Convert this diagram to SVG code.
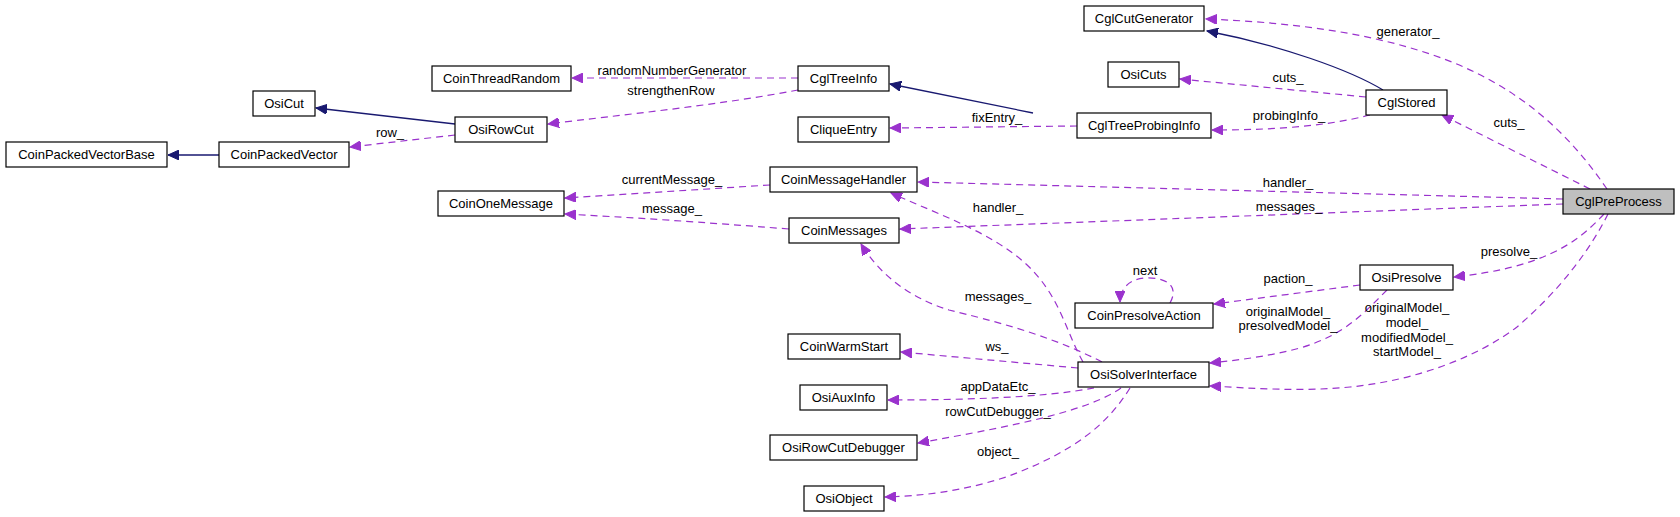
<svg xmlns="http://www.w3.org/2000/svg" width="1680" height="517" viewBox="0 0 1680 517">
<style>
.n rect{fill:#fff;stroke:#000;stroke-width:1.2}
.n text,.l{font-family:"Liberation Sans",Arial,sans-serif;font-size:13px;fill:#000;text-anchor:middle}
.d{fill:none;stroke:#9a32cd;stroke-width:1.2;stroke-dasharray:7,5;marker-end:url(#pa)}
.s{fill:none;stroke:#191970;stroke-width:1.3;marker-end:url(#na)}
</style>
<defs>
<marker id="pa" markerUnits="userSpaceOnUse" markerWidth="12" markerHeight="10" refX="11" refY="5" orient="auto"><path d="M0,0 L11,5 L0,10 z" fill="#9a32cd" stroke="#9a32cd"/></marker>
<marker id="na" markerUnits="userSpaceOnUse" markerWidth="12" markerHeight="10" refX="11" refY="5" orient="auto"><path d="M0,0 L11,5 L0,10 z" fill="#191970" stroke="#191970"/></marker>
</defs>
<rect width="1680" height="517" fill="#fff"/>
<g id="edges">
<path class="s" d="M1383,90 C1350,70 1280,45 1207,31"/>
<path class="s" d="M1033,113 L890,84"/>
<path class="s" d="M455,124 L316,108"/>
<path class="s" d="M219,155 L168,155"/>
<path class="d" d="M798,78 L572,78"/>
<path class="d" d="M798,90 C720,105 620,115 548,124"/>
<path class="d" d="M455,135 L350,147"/>
<path class="d" d="M1077,126 L890,128"/>
<path class="d" d="M1366,97 L1180,79"/>
<path class="d" d="M1370,115 C1320,128 1260,130 1212,130"/>
<path class="d" d="M1607,189 C1570,135 1520,85 1433,55 C1360,30 1280,22 1206,19"/>
<path class="d" d="M1590,189 L1442,115"/>
<path class="d" d="M1563,199 L918,182"/>
<path class="d" d="M1563,204 L900,229"/>
<path class="d" d="M770,185 L565,198"/>
<path class="d" d="M789,229 C700,222 640,218 565,214"/>
<path class="d" d="M1083,362 C1065,330 1060,295 1025,263 C990,232 940,215 891,193"/>
<path class="d" d="M1102,362 C1050,335 990,320 949,310 C910,298 880,275 861,244"/>
<path class="d" d="M1078,368 L901,352"/>
<path class="d" d="M1094,388 C1040,398 960,400 888,400"/>
<path class="d" d="M1121,388 C1090,410 1020,425 918,443"/>
<path class="d" d="M1130,388 C1110,420 1080,450 1006,477 C960,492 920,496 885,497"/>
<path class="d" d="M1170,303 C1180,285 1165,277 1145,278 C1128,279 1120,290 1120,302"/>
<path class="d" d="M1360,285 L1214,304"/>
<path class="d" d="M1387,290 C1365,312 1345,335 1300,348 C1270,356 1240,360 1210,363"/>
<path class="d" d="M1608,214 C1590,250 1560,290 1517,327 C1480,355 1420,380 1350,387 C1300,392 1250,388 1210,386"/>
<path class="d" d="M1604,214 C1580,240 1560,250 1543,257 C1510,270 1480,274 1454,277"/>
</g>
<g id="labels">
<text class="l" x="672" y="75">randomNumberGenerator</text>
<text class="l" x="671" y="95">strengthenRow</text>
<text class="l" x="390" y="137">row_</text>
<text class="l" x="997" y="122">fixEntry_</text>
<text class="l" x="1288" y="82">cuts_</text>
<text class="l" x="1289" y="120">probingInfo_</text>
<text class="l" x="1408" y="36">generator_</text>
<text class="l" x="1509" y="127">cuts_</text>
<text class="l" x="1288" y="187">handler_</text>
<text class="l" x="1289" y="211">messages_</text>
<text class="l" x="672" y="184">currentMessage_</text>
<text class="l" x="672" y="213">message_</text>
<text class="l" x="998" y="212">handler_</text>
<text class="l" x="998" y="301">messages_</text>
<text class="l" x="997" y="351">ws_</text>
<text class="l" x="998" y="391">appDataEtc_</text>
<text class="l" x="998" y="416">rowCutDebugger_</text>
<text class="l" x="998" y="456">object_</text>
<text class="l" x="1145" y="275">next</text>
<text class="l" x="1288" y="283">paction_</text>
<text class="l" x="1288" y="316">originalModel_</text>
<text class="l" x="1288" y="330">presolvedModel_</text>
<text class="l" x="1407" y="312">originalModel_</text>
<text class="l" x="1407" y="327">model_</text>
<text class="l" x="1407" y="342">modifiedModel_</text>
<text class="l" x="1407" y="356">startModel_</text>
<text class="l" x="1509" y="256">presolve_</text>
</g>
<g id="CglPreProcess" class="n"><rect x="1563" y="189" width="111" height="25" style="fill:#bfbfbf"/><text x="1618.5" y="206">CglPreProcess</text></g>
<g id="CglCutGenerator" class="n"><rect x="1084" y="6" width="120" height="25"/><text x="1144" y="23">CglCutGenerator</text></g>
<g id="CglStored" class="n"><rect x="1366" y="90" width="81" height="25"/><text x="1406.5" y="107">CglStored</text></g>
<g id="OsiPresolve" class="n"><rect x="1360" y="265" width="93" height="25"/><text x="1406.5" y="282">OsiPresolve</text></g>
<g id="OsiCuts" class="n"><rect x="1108" y="62" width="71" height="25"/><text x="1143.5" y="79">OsiCuts</text></g>
<g id="CglTreeProbingInfo" class="n"><rect x="1077" y="113" width="134" height="25"/><text x="1144" y="130">CglTreeProbingInfo</text></g>
<g id="CoinPresolveAction" class="n"><rect x="1075" y="303" width="138" height="25"/><text x="1144" y="320">CoinPresolveAction</text></g>
<g id="OsiSolverInterface" class="n"><rect x="1078" y="362" width="131" height="25"/><text x="1143.5" y="379">OsiSolverInterface</text></g>
<g id="CglTreeInfo" class="n"><rect x="798" y="66" width="91" height="25"/><text x="843.5" y="83">CglTreeInfo</text></g>
<g id="CliqueEntry" class="n"><rect x="798" y="117" width="91" height="25"/><text x="843.5" y="134">CliqueEntry</text></g>
<g id="CoinMessageHandler" class="n"><rect x="770" y="167" width="147" height="25"/><text x="843.5" y="184">CoinMessageHandler</text></g>
<g id="CoinMessages" class="n"><rect x="789" y="218" width="110" height="25"/><text x="844" y="235">CoinMessages</text></g>
<g id="CoinWarmStart" class="n"><rect x="788" y="334" width="112" height="25"/><text x="844" y="351">CoinWarmStart</text></g>
<g id="OsiAuxInfo" class="n"><rect x="800" y="385" width="87" height="25"/><text x="843.5" y="402">OsiAuxInfo</text></g>
<g id="OsiRowCutDebugger" class="n"><rect x="770" y="435" width="147" height="25"/><text x="843.5" y="452">OsiRowCutDebugger</text></g>
<g id="OsiObject" class="n"><rect x="804" y="486" width="80" height="25"/><text x="844" y="503">OsiObject</text></g>
<g id="CoinThreadRandom" class="n"><rect x="432" y="66" width="139" height="25"/><text x="501.5" y="83">CoinThreadRandom</text></g>
<g id="OsiRowCut" class="n"><rect x="455" y="117" width="92" height="25"/><text x="501" y="134">OsiRowCut</text></g>
<g id="OsiCut" class="n"><rect x="253" y="91" width="62" height="25"/><text x="284" y="108">OsiCut</text></g>
<g id="CoinPackedVector" class="n"><rect x="219" y="142" width="130" height="25"/><text x="284" y="159">CoinPackedVector</text></g>
<g id="CoinPackedVectorBase" class="n"><rect x="6" y="142" width="161" height="25"/><text x="86.5" y="159">CoinPackedVectorBase</text></g>
<g id="CoinOneMessage" class="n"><rect x="438" y="191" width="126" height="25"/><text x="501" y="208">CoinOneMessage</text></g>
</svg>
